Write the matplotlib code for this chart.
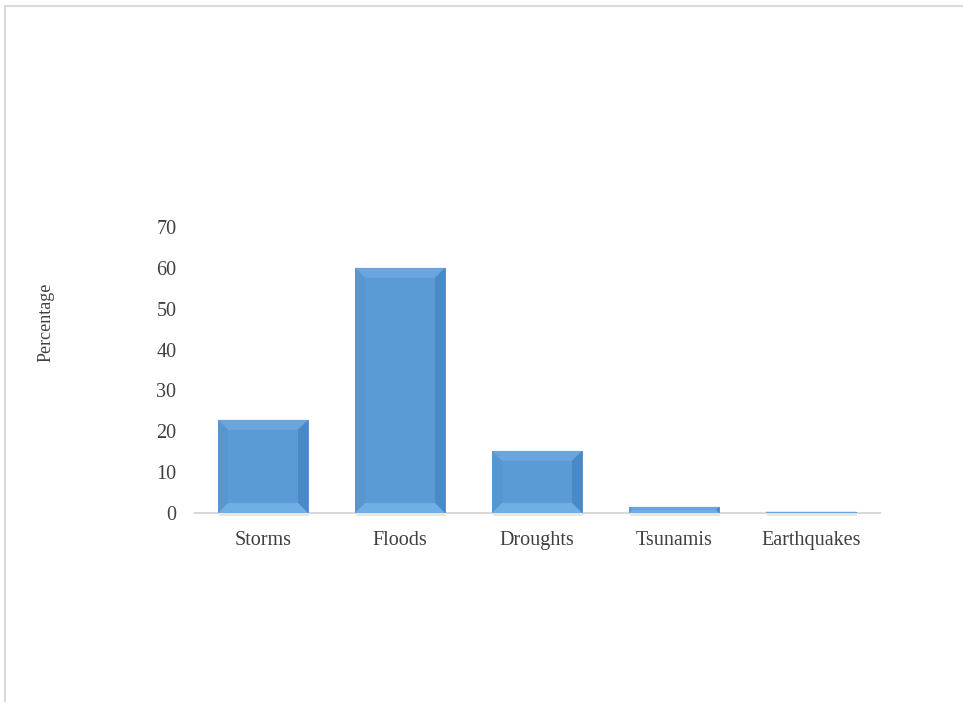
import numpy as np
import matplotlib.pyplot as plt
from matplotlib.patches import Polygon, Rectangle

# Data
categories = ['Storms', 'Floods', 'Droughts', 'Tsunamis', 'Earthquakes']
values = [22.8, 60.0, 15.2, 1.5, 0.3]
yticks = [0, 10, 20, 30, 40, 50, 60, 70]

plt.rcParams['font.family'] = ['Liberation Serif', 'DejaVu Serif']

fig = plt.figure(figsize=(9.63, 7.02), dpi=100)
ax = fig.add_axes([0.2020, 0.2692, 0.7113, 0.4074])

# outer frame of the chart area
fig.patches.append(Rectangle((5 / 963, -0.01), 1.0, 1 - 6 / 702 + 0.01,
                             transform=fig.transFigure, fill=False,
                             edgecolor='#D9D9D9', linewidth=1.5))

x = np.arange(len(categories))
width = 0.657
base = '#5B9BD5'
bars = ax.bar(x, values, width=width, color=base, edgecolor='#4F8DCB',
              linewidth=0.6, zorder=3)

ax.set_xlim(-0.5, len(categories) - 0.5)
ax.set_ylim(0, 70)

# bevel effect: size in pixels converted to data units
px_per_x = ax.get_position().width * 963 / (len(categories))
px_per_y = ax.get_position().height * 702 / 70
bev_px = 10
for xi, v in zip(x, values):
    x0, x1 = xi - width / 2, xi + width / 2
    h_px = v * px_per_y
    b = min(bev_px, h_px / 2)
    dx = b / px_per_x
    dy = b / px_per_y
    ix0, ix1, iy0, iy1 = x0 + dx, x1 - dx, dy, v - dy
    faces = [
        ([(x0, v), (x1, v), (ix1, iy1), (ix0, iy1)], '#6AA6DD'),   # top
        ([(x0, 0), (x0, v), (ix0, iy1), (ix0, iy0)], '#5697D2'),   # left
        ([(x1, 0), (x1, v), (ix1, iy1), (ix1, iy0)], '#4A88C6'),   # right
        ([(x0, 0), (x1, 0), (ix1, iy0), (ix0, iy0)], '#6FAFE6'),   # bottom
    ]
    for pts, c in faces:
        ax.add_patch(Polygon(pts, closed=True, facecolor=c, edgecolor='none', zorder=4))
    # soft shadow under each bar
    ax.add_patch(Rectangle((x0 + 0.01, -0.8), width, 0.8, facecolor='#E6E6E6',
                           edgecolor='none', zorder=2, clip_on=False))

ax.set_xticks(x)
ax.set_xticklabels(categories, fontsize=14.5)
ax.set_yticks(yticks)
ax.set_yticklabels([str(t) for t in yticks], fontsize=14.5)
ax.tick_params(axis='both', length=0, colors='#404040')
ax.tick_params(axis='x', pad=13)
ax.tick_params(axis='y', pad=13)

for s in ['top', 'right', 'left']:
    ax.spines[s].set_visible(False)
ax.spines['bottom'].set_color('#D9D9D9')
ax.spines['bottom'].set_linewidth(1.5)
ax.spines['bottom'].set_zorder(1)

fig.text(46 / 963, 1 - 322 / 702, 'Percentage', rotation=90, ha='center',
         va='center', fontsize=13, color='#404040')

fig.savefig('out.png', dpi=100)
